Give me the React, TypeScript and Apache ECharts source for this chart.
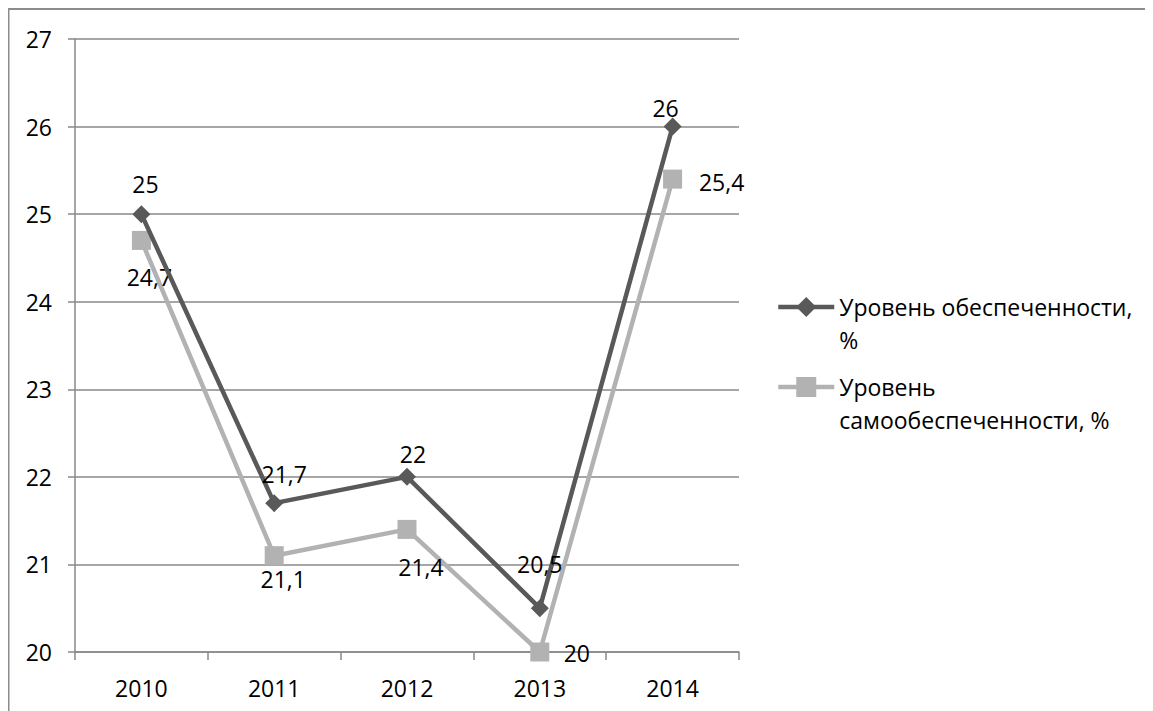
import React, { useEffect, useRef } from "react";
import * as echarts from "echarts";

const categories = ["2010", "2011", "2012", "2013", "2014"];
const seriesNames = ["Уровень обеспеченности, %", "Уровень самообеспеченности, %"];
const legendTexts = ["Уровень обеспеченности,\n%", "Уровень\nсамообеспеченности, %"];
const provision = [25, 21.7, 22, 20.5, 26];
const selfProvision = [24.7, 21.1, 21.4, 20, 25.4];
const yTicks = { min: 20, max: 27, interval: 1 };

// label offsets (placement only)
const provisionLabelOffsets = [[4, -30], [10, -29], [6, -23], [0, -44], [-7, -19]];
const selfLabelOffsets = [[8, 37], [9, 23], [14, 38], [37, 1], [49, 3]];

const FONT = "'Open Sans', 'Noto Sans', sans-serif";
const AXIS = "#898989";
const FS = 23;
const LH = 33;

const fmt = (v: number) => String(v).replace(".", ",");

export default function App() {
  const ref = useRef<HTMLDivElement>(null);
  useEffect(() => {
    if (!ref.current) return;
    const chart = echarts.init(ref.current, undefined, { renderer: "svg" });
    const mkData = (vals: number[], offs: number[][]) =>
      vals.map((v, i) => ({
        value: v,
        label: {
          show: true,
          position: "inside",
          offset: offs[i],
          formatter: () => fmt(v),
        },
      }));
    const half = (3 * LH) / 2;
    const legendBase = {
      orient: "vertical",
      left: 768,
      padding: 0,
      itemWidth: 56,
      itemHeight: 25,
      lineStyle: { width: 4.5 },
      textStyle: {
        fontFamily: FONT,
        fontSize: FS,
        lineHeight: LH,
        color: "#000",
      },
      // leading blank line keeps the first text line level with the icon
      formatter: (name: string) => "\u00A0\n" + legendTexts[seriesNames.indexOf(name)],
    };
    chart.setOption({
      animation: false,
      textStyle: { fontFamily: FONT },
      graphic: [
        {
          type: "rect",
          shape: { x: 0.5, y: 1, width: 1300, height: 900 },
          style: { fill: "none", stroke: "#8c8c8c", lineWidth: 2 },
          silent: true,
        },
      ],
      legend: [
        { ...legendBase, top: 307 - half - 8, data: [seriesNames[0]] },
        { ...legendBase, top: 387 - half - 8, data: [seriesNames[1]] },
      ],
      grid: { left: 67, top: 31, width: 664, height: 613, containLabel: false },
      xAxis: {
        type: "category",
        data: categories,
        boundaryGap: true,
        axisLine: { show: true, lineStyle: { color: AXIS, width: 1.5 } },
        axisTick: { show: true, length: 8, alignWithLabel: false, lineStyle: { color: AXIS, width: 1.5 } },
        axisLabel: { fontFamily: FONT, fontSize: FS, color: "#000", margin: 24 },
        splitLine: { show: false },
      },
      yAxis: {
        type: "value",
        min: yTicks.min,
        max: yTicks.max,
        interval: yTicks.interval,
        axisLine: { show: true, lineStyle: { color: AXIS, width: 1.5 } },
        axisTick: { show: true, length: 7, lineStyle: { color: AXIS, width: 1.5 } },
        axisLabel: { fontFamily: FONT, fontSize: FS, color: "#000", margin: 23 },
        splitLine: { show: true, lineStyle: { color: AXIS, width: 1.5 } },
      },
      series: [
        {
          name: seriesNames[0],
          type: "line",
          data: mkData(provision, provisionLabelOffsets),
          symbol: "diamond",
          symbolSize: 18,
          lineStyle: { color: "#595959", width: 4.5 },
          itemStyle: { color: "#595959" },
          label: { fontFamily: FONT, fontSize: FS, color: "#000" },
          z: 3,
        },
        {
          name: seriesNames[1],
          type: "line",
          data: mkData(selfProvision, selfLabelOffsets),
          symbol: "rect",
          symbolSize: 19,
          lineStyle: { color: "#b2b2b2", width: 4.5 },
          itemStyle: { color: "#b2b2b2" },
          label: { fontFamily: FONT, fontSize: FS, color: "#000" },
          z: 2,
        },
      ],
    });
    return () => chart.dispose();
  }, []);
  return <div ref={ref} style={{ width: 1145, height: 703 }} />;
}
